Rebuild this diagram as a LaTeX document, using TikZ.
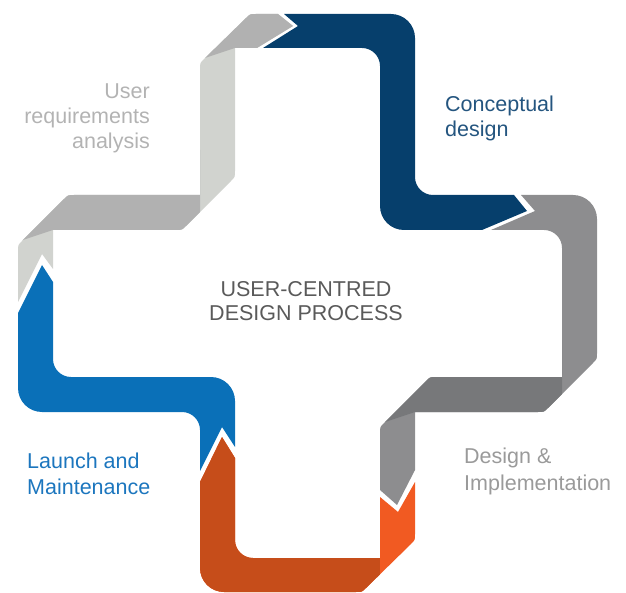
\documentclass[tikz,border=0pt]{standalone}
\usepackage{fontspec}
\setmainfont{Liberation Sans}
\definecolor{reqlight}{HTML}{D1D3CF}
\definecolor{reqmid}{HTML}{B1B1B1}
\definecolor{conceptblue}{HTML}{063F6C}
\definecolor{impllight}{HTML}{8D8D8F}
\definecolor{impldark}{HTML}{77787A}
\definecolor{orangebright}{HTML}{F15A22}
\definecolor{orangedark}{HTML}{C64D1A}
\definecolor{launchblue}{HTML}{0A70B8}
\definecolor{reqtext}{HTML}{B3B3B3}
\definecolor{concepttext}{HTML}{24557F}
\definecolor{centretext}{HTML}{5A5A5A}
\definecolor{impltext}{HTML}{9A9A9A}
\definecolor{launchtext}{HTML}{1C76BE}
\begin{document}
\begin{tikzpicture}[x=1pt,y=1pt,
  txt/.style={inner sep=0pt, font=\fontsize{21.5}{25}\selectfont}]
\useasboundingbox (0,0) rectangle (626,-593);

% --- User requirements analysis: light/mid grey twisted ribbon
\path[save path=\reqsil] (278,-14) -- (293,-26) -- (257,-48) -- (235,-48)
  -- (235,-171) .. controls (235,-177) .. (231,-181)
  -- (186,-226) .. controls (182,-230) .. (176,-230)
  -- (53,-230) -- (53,-269) -- (42,-254) -- (18,-302)
  -- (18,-251) .. controls (18,-245) .. (22,-241)
  -- (64,-199) .. controls (68,-195) .. (74,-195)
  -- (200,-195)
  -- (200,-69) .. controls (200,-63) .. (204,-59)
  -- (246,-18) .. controls (250,-14) .. (256,-14) -- cycle;
\fill[reqlight, use path=\reqsil];
\begin{scope}
  \clip[use path=\reqsil];
  \fill[reqmid] (0,-150) -- (200,-150) -- (200,-230) -- (53,-230) -- (23,-240) -- (0,-248) -- cycle;
  \fill[reqmid] (180,0) -- (300,0) -- (300,-48) -- (235,-48) -- (205,-58) -- (180,-66) -- cycle;
\end{scope}

% --- Conceptual design: dark blue ribbon
\fill[conceptblue] (284,-14) -- (391,-14) arc[start angle=90,end angle=0,radius=24]
  -- (415,-177) arc[start angle=180,end angle=270,radius=18]
  -- (514,-195) -- (527,-211) -- (482,-230)
  -- (404,-230) arc[start angle=270,end angle=180,radius=24]
  -- (380,-66) arc[start angle=0,end angle=90,radius=18]
  -- (263,-48) -- (298,-26) -- cycle;

% --- Design & Implementation: grey twisted ribbon
\path[save path=\implsil] (521,-195) -- (573,-195) arc[start angle=90,end angle=0,radius=24]
  -- (597,-353) .. controls (597,-359) .. (593,-363)
  -- (548,-408) .. controls (544,-412) .. (538,-412)
  -- (415,-412) -- (415,-470) -- (397,-505) -- (380,-490)
  -- (380,-433) .. controls (380,-427) .. (384,-423)
  -- (426,-381) .. controls (430,-377) .. (436,-377)
  -- (562,-377) -- (562,-248) arc[start angle=0,end angle=90,radius=18]
  -- (491,-230) -- (535,-211) -- cycle;
\fill[impllight, use path=\implsil];
\begin{scope}
  \clip[use path=\implsil];
  \fill[impldark] (562,-340) -- (562,-412) -- (415,-412) -- (385,-422) -- (370,-427) -- (370,-340) -- cycle;
\end{scope}

% --- orange ribbon along the bottom arm
\path[save path=\orangesil] (415,-482)
  -- (415,-534) .. controls (415,-540) .. (411,-544)
  -- (366,-588) .. controls (362,-592) .. (356,-592)
  -- (224,-592) arc[start angle=270,end angle=180,radius=24]
  -- (200,-482) -- (222,-437) -- (235,-458)
  -- (235,-540) arc[start angle=180,end angle=270,radius=18]
  -- (380,-558) -- (380,-497) -- (398,-512) -- cycle;
\fill[orangebright, use path=\orangesil];
\begin{scope}
  \clip[use path=\orangesil];
  \fill[orangedark] (150,-400) rectangle (380,-600);
\end{scope}

% --- Launch and Maintenance: blue ribbon
\fill[launchblue] (235,-447) -- (235,-401) arc[start angle=0,end angle=90,radius=24]
  -- (71,-377) arc[start angle=270,end angle=180,radius=18]
  -- (53,-282) -- (42,-265) -- (18,-313)
  -- (18,-388) arc[start angle=180,end angle=270,radius=24]
  -- (182,-412) arc[start angle=90,end angle=0,radius=18]
  -- (200,-471) -- (222,-427) -- cycle;

% --- labels
\node[txt, anchor=base east, text=reqtext] (ura1) at (150,-99) {User};
\node[txt, anchor=base east, text=reqtext] (ura2) at (150,-124) {requirements};
\node[txt, anchor=base east, text=reqtext] (ura3) at (150,-149) {analysis};

\node[txt, anchor=base west, text=concepttext] (cd1) at (445,-112) {Conceptual};
\node[txt, anchor=base west, text=concepttext] (cd2) at (445,-137) {design};

\node[txt, anchor=base, text=centretext] (ucd1) at (306,-297) {USER-CENTRED};
\node[txt, anchor=base, text=centretext] (ucd2) at (306,-321) {DESIGN PROCESS};

\node[txt, anchor=base west, text=impltext] (di1) at (464,-463) {Design \&};
\node[txt, anchor=base west, text=impltext] (di2) at (464,-490) {Implementation};

\node[txt, anchor=base west, text=launchtext] (lm1) at (27,-468) {Launch and};
\node[txt, anchor=base west, text=launchtext] (lm2) at (27,-494) {Maintenance};
\end{tikzpicture}
\end{document}
